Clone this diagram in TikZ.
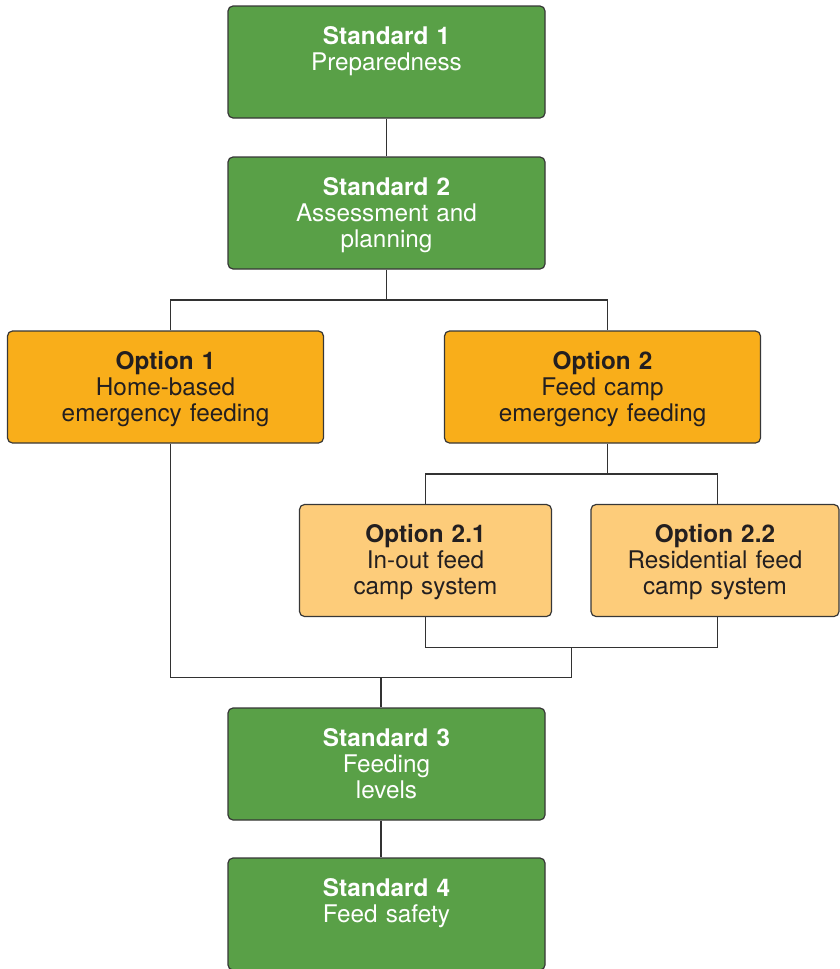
\documentclass[tikz,border=0pt]{standalone}
\usepackage{fontspec}
\setmainfont{TeX Gyre Heros}
\usetikzlibrary{calc}

\definecolor{stdgreen}{RGB}{89,160,71}
\definecolor{optorange}{RGB}{249,174,26}
\definecolor{suborange}{RGB}{253,204,122}
\definecolor{boxedge}{RGB}{55,55,55}
\definecolor{linkgrey}{RGB}{50,50,50}
\definecolor{darktext}{RGB}{35,31,32}

\begin{document}
\begin{tikzpicture}[x=1pt,y=-1pt,line width=1.2pt]
    \tikzstyle{box}=[rectangle,rounded corners=5pt,draw=boxedge,line width=1.2pt,
        minimum height=112pt,align=center,text height=22pt,text depth=58pt,
        inner sep=6pt,font=\fontsize{24.3}{26.2}\selectfont]
    \tikzstyle{standard}=[box,fill=stdgreen,text=white,minimum width=317pt,text width=300pt]
    \tikzstyle{option}=[box,fill=optorange,text=darktext,minimum width=316pt,text width=300pt]
    \tikzstyle{suboption}=[box,fill=suborange,text=darktext,minimum width=252pt,text width=236pt]
    \tikzstyle{link}=[draw=linkgrey,line width=1.3pt]

    \useasboundingbox (0,0) rectangle (839,969);

    \node[standard] (S-1) at (386.5,62) {\textbf{Standard 1}\\Preparedness};
    \node[standard] (S-2) at (386.5,213) {\textbf{Standard 2}\\Assessment and\\planning};
    \node[option] (O-1) at (165.5,387) {\textbf{Option 1}\\Home-based\\emergency feeding};
    \node[option] (O-2) at (602.5,387) {\textbf{Option 2}\\Feed camp\\emergency feeding};
    \node[suboption] (O-21) at (425.5,560.5) {\textbf{Option 2.1}\\In-out feed\\camp system};
    \node[suboption,minimum width=247pt] (O-22) at (715,560.5) {\textbf{Option 2.2}\\Residential feed\\camp system};
    \node[standard] (S-3) at (386.5,764) {\textbf{Standard 3}\\Feeding\\levels};
    \node[standard] (S-4) at (386.5,914) {\textbf{Standard 4}\\Feed safety};

    \coordinate (split-1) at (386.5,300);
    \coordinate (split-2) at (607.7,474);
    \coordinate (join-1) at (571.7,647.7);
    \coordinate (join-2) at (571.7,677.7);

    \draw[link] (S-1) -- (S-2);
    \draw[link] (S-2.south) -- (split-1);
    \draw[link] ([xshift=5.2pt]O-1.north) |- (split-1) -| ([xshift=5.2pt]O-2.north);

    \draw[link] ([xshift=5.2pt]O-2.south) -- (split-2);
    \draw[link] (O-21.north) |- (split-2) -| ([xshift=2.7pt]O-22.north);

    \draw[link] (O-21.south) |- (join-1) -| ([xshift=2.7pt]O-22.south);
    \draw[link] (join-1) -- (join-2);
    \draw[link] ([xshift=5.2pt]O-1.south) |- (join-2);
    \draw[link] ([xshift=-5.6pt]S-3.north) -- ([xshift=-5.6pt]S-3.north |- join-2);
    \draw[link] ([xshift=-5.6pt]S-3.south) -- ([xshift=-5.6pt]S-4.north);
\end{tikzpicture}
\end{document}
